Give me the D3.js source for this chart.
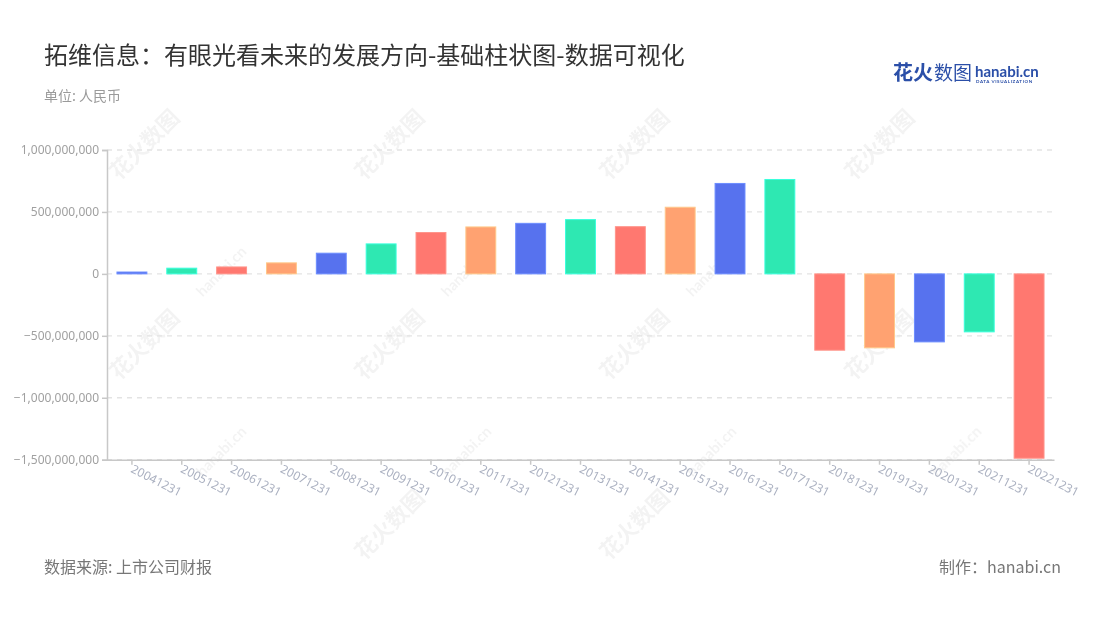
<!DOCTYPE html>
<html><head><meta charset="utf-8">
<script src="https://cdn.jsdelivr.net/npm/d3@7"></script>
<style>body{margin:0;background:#fff;}svg{display:block;font-family:"Noto Sans CJK SC","Noto Sans",sans-serif;}</style>
</head><body>
<svg id="c" width="1100" height="620"></svg>
<script>
const categories = ["20041231","20051231","20061231","20071231","20081231","20091231","20101231","20111231","20121231","20131231","20141231","20151231","20161231","20171231","20181231","20191231","20201231","20211231","20221231"];
const values = [15e6,46e6,56e6,89e6,167e6,242e6,334e6,379e6,408e6,438e6,381e6,538e6,730e6,762e6,-616e6,-597e6,-549e6,-468e6,-1488e6];
const palette = ["#5772ee","#2ee8b2","#ff7870","#ffa271"];
const yTicks = [1e9,5e8,0,-5e8,-1e9,-1.5e9];

const svg = d3.select("#c");
const x = d3.scaleBand().domain(categories).range([107,1054]).paddingInner(0.4).paddingOuter(0.2);
const y = d3.scaleLinear().domain([-1.5e9,1e9]).range([459.7,150]);

// watermarks
const wm = svg.append("g").attr("fill","#000").attr("opacity",0.05);
[[150,150],[395,150],[640,150],[885,150],[150,350],[395,350],[640,350],[885,350],[395,530],[640,530]].forEach(([cx,cy])=>{
  wm.append("text").attr("transform",`translate(${cx},${cy}) rotate(-45)`).attr("text-anchor","middle")
    .attr("font-size",22).attr("font-weight","bold").text("花火数图");
});
[[225,275],[470,275],[715,275],[225,455],[470,455],[715,455],[960,455]].forEach(([cx,cy])=>{
  wm.append("text").attr("transform",`translate(${cx},${cy}) rotate(-45)`).attr("text-anchor","middle")
    .attr("font-size",15).attr("font-weight","bold").attr("font-family","Lato, sans-serif").text("hanabi.cn");
});

// grid
svg.append("g").selectAll("line").data(yTicks).join("line")
  .attr("x1",107).attr("x2",1054).attr("y1",d=>y(d)).attr("y2",d=>y(d))
  .attr("stroke","#e3e3e3").attr("stroke-width",1.3).attr("stroke-dasharray","5,5");

// y axis
const ya = svg.append("g").attr("transform","translate(107,0)")
  .call(d3.axisLeft(y).tickValues(yTicks).tickFormat(d3.format(",")).tickSize(5).tickPadding(3));
ya.select(".domain").attr("stroke","#c8c8c8").attr("stroke-width",1.5);
ya.selectAll(".tick line").attr("stroke","#c8c8c8").attr("stroke-width",1.5);
ya.selectAll("text").attr("fill","#a0a0a0").attr("font-size",12).attr("font-family","Noto Sans, sans-serif");

// x axis
const xa = svg.append("g").attr("transform","translate(0,459.7)")
  .call(d3.axisBottom(x).tickSize(5).tickSizeOuter(0));
xa.select(".domain").attr("stroke","#c8c8c8").attr("stroke-width",1.5);
xa.selectAll(".tick line").attr("stroke","#c8c8c8").attr("stroke-width",1.5);
xa.selectAll("text").attr("fill","#aab0c0").attr("font-size",12).attr("font-family","Noto Sans, sans-serif")
  .attr("text-anchor","start").attr("dy",0).attr("y",0)
  .attr("transform","translate(-2,12) rotate(27)");

// bars
svg.append("g").selectAll("rect").data(values).join("rect")
  .attr("x",(d,i)=>x(categories[i]))
  .attr("width",x.bandwidth())
  .attr("y",d=>y(Math.max(0,d)))
  .attr("height",d=>Math.abs(y(d)-y(0)))
  .attr("fill",(d,i)=>palette[i%4])
  .attr("stroke",(d,i)=>d3.color(palette[i%4]).brighter(0.6))
  .attr("stroke-width",1);

// titles
svg.append("text").attr("x",44).attr("y",64).attr("font-size",24).attr("fill","#333").text("拓维信息：有眼光看未来的发展方向-基础柱状图-数据可视化");
svg.append("text").attr("x",44).attr("y",101).attr("font-size",14).attr("fill","#9a9a9a").text("单位: 人民币");
svg.append("text").attr("x",44).attr("y",573).attr("font-size",16).attr("fill","#777").text("数据来源: 上市公司财报");
svg.append("text").attr("x",1061).attr("y",573).attr("text-anchor","end").attr("font-size",16).attr("fill","#777").text("制作：hanabi.cn");

// logo
svg.append("text").attr("x",893).attr("y",80).attr("font-size",20).attr("font-weight","bold").attr("fill","#2b4fa8").text("花火");
svg.append("text").attr("x",934).attr("y",80).attr("font-size",19).attr("fill","#2b4fa8").text("数图");
svg.append("text").attr("x",975).attr("y",77).attr("font-size",15).attr("font-weight","bold").attr("fill","#2b4fa8").attr("font-family","Lato, sans-serif").text("hanabi.cn");
svg.append("text").attr("x",976).attr("y",83).attr("font-size",4.5).attr("font-weight","bold").attr("fill","#2b4fa8").attr("font-family","Lato, sans-serif").attr("letter-spacing",0.6).text("DATA VISUALIZATION");
</script>
</body></html>
